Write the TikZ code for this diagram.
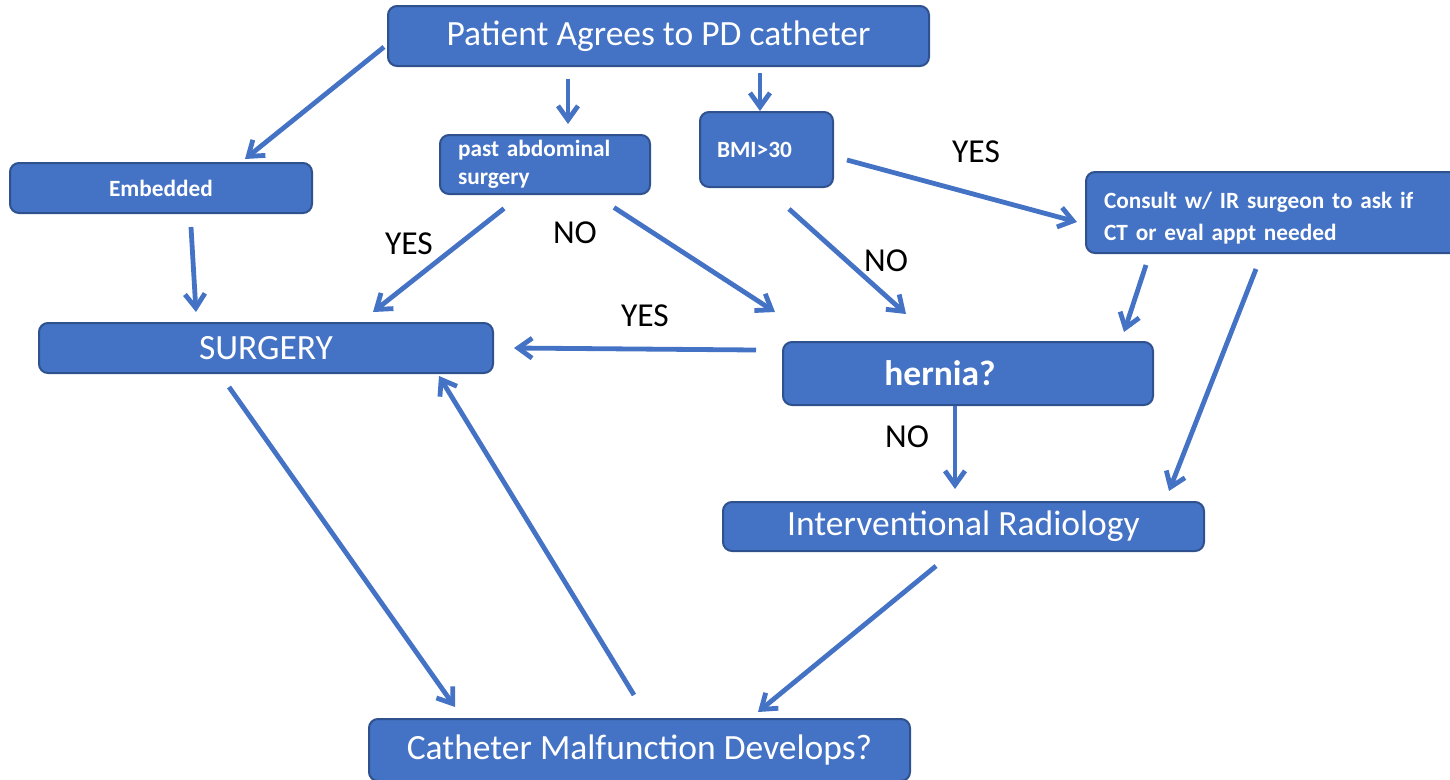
\documentclass[tikz,border=0pt]{standalone}
\usepackage{fontspec}
\setmainfont{Carlito}
\usetikzlibrary{arrows.meta,calc}
\definecolor{boxfill}{HTML}{4472C4}
\definecolor{boxline}{HTML}{2F528F}
\begin{document}
\begin{tikzpicture}[x=1pt,y=-1pt,
  box/.style={draw=boxline, line width=2pt, fill=boxfill, rounded corners=9pt, text=white, inner sep=0pt},
  bigtxt/.style={font=\fontsize{35.5}{42}\selectfont},
  smalltxt/.style={font=\fontsize{23.3}{28}\selectfont\bfseries},
  lbl/.style={font=\fontsize{33.5}{40}\selectfont, text=black, inner sep=0pt},
  arr/.style={draw=boxfill, line width=4.8pt, -{Straight Barb[length=14pt,width=20pt]}},
]
\useasboundingbox (0,0) rectangle (1450,779);
\clip (0,0) rectangle (1450,779);

% boxes
\node[box,bigtxt,minimum width=541pt,minimum height=60pt] (top) at (658.5,36) {\raisebox{-1.5pt}{Patient Agrees to PD catheter}};
\node[box,smalltxt,text width=174pt,inner xsep=18pt,minimum height=59pt,align=left] (past) at (545,164.5) {past abdominal\\surgery};
\node[box,smalltxt,text width=99pt,inner xsep=17pt,minimum height=75pt,align=left] (bmi) at (766.5,149.5) {BMI>30};
\node[box,smalltxt,minimum width=302pt,minimum height=50pt] (emb) at (161,188) {Embedded};
\node[box,minimum width=376pt,minimum height=81pt,
  label={[text=white,text width=340pt,align=left,yshift=-6pt,font=\fontsize{23.3}{32}\selectfont\bfseries]center:Consult w/ IR surgeon to ask if\\CT or eval appt needed}] (cons) at (1274,212.5) {};
\node[box,bigtxt,minimum width=454pt,minimum height=50pt] (surg) at (266,348) {SURGERY};
\node[box,minimum width=370pt,minimum height=63pt,
  label={[text=white,font=\fontsize{35.5}{42}\selectfont\bfseries,xshift=-28pt]center:hernia?}] (hern) at (968,373.5) {};
\node[box,bigtxt,minimum width=481pt,minimum height=49pt] (ir) at (963.5,526.5) {Interventional Radiology};
\node[box,bigtxt,minimum width=541pt,minimum height=62pt] (cath) at (639.5,750) {Catheter Malfunction Develops?};

% labels
\node[lbl] (yes1) at (409,244) {YES};
\node[lbl] (no1) at (575,233) {NO};
\node[lbl] (yes2) at (645,316) {YES};
\node[lbl] (no2) at (886,261) {NO};
\node[lbl] (yes3) at (976,152) {YES};
\node[lbl] (no3) at (907,437) {NO};

% connectors
\draw[arr] ($(top.west)+(-3,11)$) -- ($(emb.north)+(84,-3)$);
\draw[arr] ($(top.south)+(-90.5,12)$) -- ($(past.north)+(23,-10)$);
\draw[arr] ($(top.south)+(101.5,6)$) -- ($(bmi.north)+(-6.5,0)$);
\draw[arr] ($(emb.south)+(30,13)$) -- ($(surg.north)+(-70,-10)$);
\draw[arr] ($(past.south)+(-41,13.5)$) -- ($(surg.north)+(107,-10)$);
\draw[arr] ($(past.south)+(69,12.5)$) -- ($(hern.north west)+(-7,-29)$);
\draw[arr] ($(bmi.south)+(22.5,21)$) -- ($(hern.north)+(-62,-27)$);
\draw[arr] ($(bmi.east)+(13,10.5)$) -- ($(cons.west)+(-8,9.5)$);
\draw[arr] ($(cons.south)+(-128,11)$) -- ($(hern.north east)+(-30,-9)$);
\draw[arr] ($(cons.south)+(-18,15)$) -- ($(ir.north east)+(-36,-10)$);
\draw[arr] ($(hern.west)+(-26,-23.5)$) -- ($(surg.east)+(20,0)$);
\draw[arr] ($(hern.south)+(-13,0)$) -- ($(ir.north)+(-8.5,-12)$);
\draw[arr] ($(surg.south)+(-37,13)$) -- ($(cath.north)+(-184.5,-11)$);
\draw[arr] ($(cath.north)+(-5.5,-23)$) -- ($(surg.south)+(173,2)$);
\draw[arr] ($(ir.south)+(-27.5,14)$) -- ($(cath.north)+(118.5,-6)$);
\end{tikzpicture}
\end{document}
